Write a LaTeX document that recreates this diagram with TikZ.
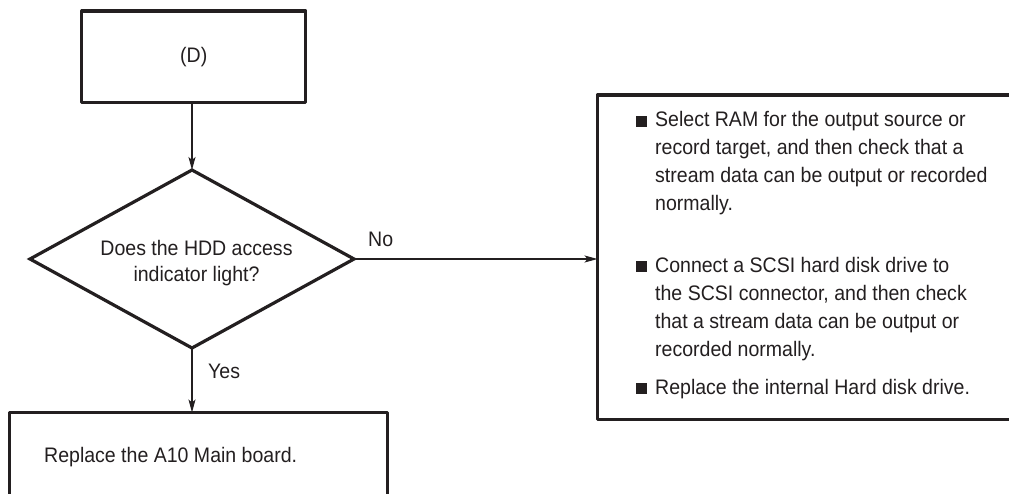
\documentclass[tikz,border=0pt]{standalone}
\usepackage{fontspec}
\setmainfont{Liberation Sans}[FakeStretch=0.93]
\usetikzlibrary{shapes.geometric,arrows.meta}
\definecolor{ink}{HTML}{231F20}
\tikzset{
  boxed/.style={draw=ink, line width=3.2pt, rectangle, inner sep=0pt, outer sep=0pt, line join=round},
  txt/.style={text=ink, inner sep=0pt, font=\fontsize{21}{28}\selectfont},
  conn/.style={draw=ink, line width=1.1pt, -{Stealth[length=13pt,width=7pt,inset=3pt]}},
}
\newcommand{\bulletsq}{\llap{\rule{11pt}{11pt}\hspace{8.5pt}}}
\begin{document}
\begin{tikzpicture}[x=1pt,y=-1pt]
\clip (0,0) rectangle (1009,494);
\fill[white] (0,0) rectangle (1009,494);
\node[boxed, minimum width=224pt, minimum height=91.5pt] (D) at (193.8,56.8) {};
\node[txt] (Dt) at (D.center) {(D)};
\node[draw=ink, line width=3.2pt, diamond, aspect=1.82, minimum width=324pt, minimum height=178pt, inner sep=0pt, outer sep=0pt] (dia) at (192,259) {};
\node[txt, align=center, font=\fontsize{21}{26}\selectfont] (diat) at (196.5,263) {Does the HDD access\\indicator light?};
\node[boxed, minimum width=378pt, minimum height=107pt] (bot) at (198.5,466) {};
\node[txt, anchor=base west] (bott) at (44,462) {Replace the A10 Main board.};
\node[boxed, minimum width=427.5pt, minimum height=324.5pt] (rbox) at (811.25,257.25) {};
\node[txt, anchor=base west, align=left] (i1) at (655,211) {\bulletsq Select RAM for the output source or\\record target, and then check that a\\stream data can be output or recorded\\normally.};
\node[txt, anchor=base west, align=left] (i2) at (655,356) {\bulletsq Connect a SCSI hard disk drive to\\the SCSI connector, and then check\\that a stream data can be output or\\recorded normally.};
\node[txt, anchor=base west, align=left] (i3) at (655,394) {\bulletsq Replace the internal Hard disk drive.};
\draw[conn] (dia.north |- D.south) -- (dia.north);
\draw[conn] (dia.east) -- (dia.east -| rbox.west);
\draw[conn] (dia.south) -- (dia.south |- bot.north);
\node[txt, anchor=base west] (no) at (368,247) {No};
\node[txt, anchor=base west] (yes) at (208,378) {Yes};
\end{tikzpicture}
\end{document}
